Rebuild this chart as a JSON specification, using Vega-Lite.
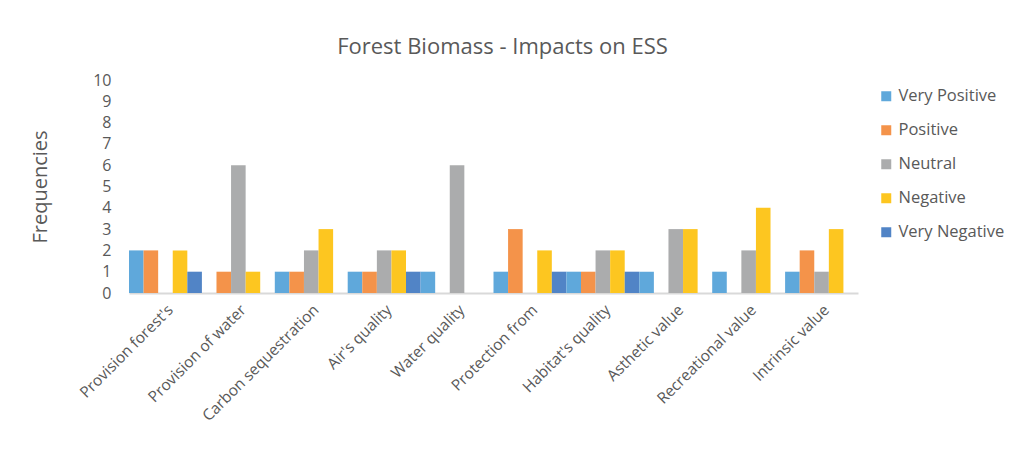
{
  "$schema": "https://vega.github.io/schema/vega-lite/v6.json",
  "width": 729,
  "height": 213,
  "autosize": "none",
  "padding": {"left": 129, "top": 80, "right": 163, "bottom": 160},
  "background": "white",
  "config": {
    "font": "Open Sans",
    "view": {"stroke": null}
  },
  "title": {
    "text": "Forest Biomass - Impacts on ESS",
    "fontSize": 22,
    "fontWeight": "normal",
    "color": "#595959",
    "offset": 13,
    "anchor": "middle",
    "dx": 9
  },
  "data": {
    "values": [
      {"category": "Provision forest's", "rating": "Very Positive", "count": 2},
      {"category": "Provision forest's", "rating": "Positive", "count": 2},
      {"category": "Provision forest's", "rating": "Neutral", "count": 0},
      {"category": "Provision forest's", "rating": "Negative", "count": 2},
      {"category": "Provision forest's", "rating": "Very Negative", "count": 1},
      {"category": "Provision of water", "rating": "Very Positive", "count": 0},
      {"category": "Provision of water", "rating": "Positive", "count": 1},
      {"category": "Provision of water", "rating": "Neutral", "count": 6},
      {"category": "Provision of water", "rating": "Negative", "count": 1},
      {"category": "Provision of water", "rating": "Very Negative", "count": 0},
      {"category": "Carbon sequestration", "rating": "Very Positive", "count": 1},
      {"category": "Carbon sequestration", "rating": "Positive", "count": 1},
      {"category": "Carbon sequestration", "rating": "Neutral", "count": 2},
      {"category": "Carbon sequestration", "rating": "Negative", "count": 3},
      {"category": "Carbon sequestration", "rating": "Very Negative", "count": 0},
      {"category": "Air's quality", "rating": "Very Positive", "count": 1},
      {"category": "Air's quality", "rating": "Positive", "count": 1},
      {"category": "Air's quality", "rating": "Neutral", "count": 2},
      {"category": "Air's quality", "rating": "Negative", "count": 2},
      {"category": "Air's quality", "rating": "Very Negative", "count": 1},
      {"category": "Water quality", "rating": "Very Positive", "count": 1},
      {"category": "Water quality", "rating": "Positive", "count": 0},
      {"category": "Water quality", "rating": "Neutral", "count": 6},
      {"category": "Water quality", "rating": "Negative", "count": 0},
      {"category": "Water quality", "rating": "Very Negative", "count": 0},
      {"category": "Protection from", "rating": "Very Positive", "count": 1},
      {"category": "Protection from", "rating": "Positive", "count": 3},
      {"category": "Protection from", "rating": "Neutral", "count": 0},
      {"category": "Protection from", "rating": "Negative", "count": 2},
      {"category": "Protection from", "rating": "Very Negative", "count": 1},
      {"category": "Habitat's quality", "rating": "Very Positive", "count": 1},
      {"category": "Habitat's quality", "rating": "Positive", "count": 1},
      {"category": "Habitat's quality", "rating": "Neutral", "count": 2},
      {"category": "Habitat's quality", "rating": "Negative", "count": 2},
      {"category": "Habitat's quality", "rating": "Very Negative", "count": 1},
      {"category": "Asthetic value", "rating": "Very Positive", "count": 1},
      {"category": "Asthetic value", "rating": "Positive", "count": 0},
      {"category": "Asthetic value", "rating": "Neutral", "count": 3},
      {"category": "Asthetic value", "rating": "Negative", "count": 3},
      {"category": "Asthetic value", "rating": "Very Negative", "count": 0},
      {"category": "Recreational value", "rating": "Very Positive", "count": 1},
      {"category": "Recreational value", "rating": "Positive", "count": 0},
      {"category": "Recreational value", "rating": "Neutral", "count": 2},
      {"category": "Recreational value", "rating": "Negative", "count": 4},
      {"category": "Recreational value", "rating": "Very Negative", "count": 0},
      {"category": "Intrinsic value", "rating": "Very Positive", "count": 1},
      {"category": "Intrinsic value", "rating": "Positive", "count": 2},
      {"category": "Intrinsic value", "rating": "Neutral", "count": 1},
      {"category": "Intrinsic value", "rating": "Negative", "count": 3},
      {"category": "Intrinsic value", "rating": "Very Negative", "count": 0}
    ]
  },
  "mark": {"type": "bar"},
  "encoding": {
    "x": {
      "field": "category",
      "type": "nominal",
      "sort": null,
      "scale": {"paddingInner": 0, "paddingOuter": 0},
      "axis": {
        "title": null,
        "labelAngle": -45,
        "labelAlign": "right",
        "labelBaseline": "middle",
        "labelFontSize": 15.5,
        "labelColor": "#595959",
        "labelPadding": 14,
        "labelOffset": 5,
        "labelOverlap": false,
        "labelBound": false,
        "ticks": false,
        "domainColor": "#d9d9d9",
        "domainWidth": 2
      }
    },
    "xOffset": {
      "field": "rating",
      "type": "nominal",
      "sort": ["Very Positive", "Positive", "Neutral", "Negative", "Very Negative"],
      "scale": {"paddingInner": 0, "paddingOuter": 0}
    },
    "y": {
      "field": "count",
      "type": "quantitative",
      "scale": {"domain": [0, 10]},
      "axis": {
        "title": "Frequencies",
        "titleFontSize": 20,
        "titleFontWeight": "normal",
        "titleColor": "#595959",
        "titlePadding": 42,
        "labelFontSize": 16,
        "labelColor": "#595959",
        "labelPadding": 18,
        "labelOverlap": false,
        "labelBound": false,
        "labelFlush": false,
        "values": [0, 1, 2, 3, 4, 5, 6, 7, 8, 9, 10],
        "domain": false,
        "ticks": false,
        "grid": false
      }
    },
    "color": {
      "field": "rating",
      "type": "nominal",
      "sort": ["Very Positive", "Positive", "Neutral", "Negative", "Very Negative"],
      "scale": {
        "domain": ["Very Positive", "Positive", "Neutral", "Negative", "Very Negative"],
        "range": ["#5fa8db", "#f4934a", "#abacad", "#fdc620", "#5184c6"]
      },
      "legend": {
        "title": null,
        "orient": "none",
        "legendX": 749,
        "legendY": 8,
        "symbolType": "square",
        "symbolSize": 100,
        "symbolStrokeWidth": 0,
        "labelFontSize": 16.5,
        "labelColor": "#595959",
        "labelOffset": 4,
        "rowPadding": 17,
        "padding": 0
      }
    }
  }
}
